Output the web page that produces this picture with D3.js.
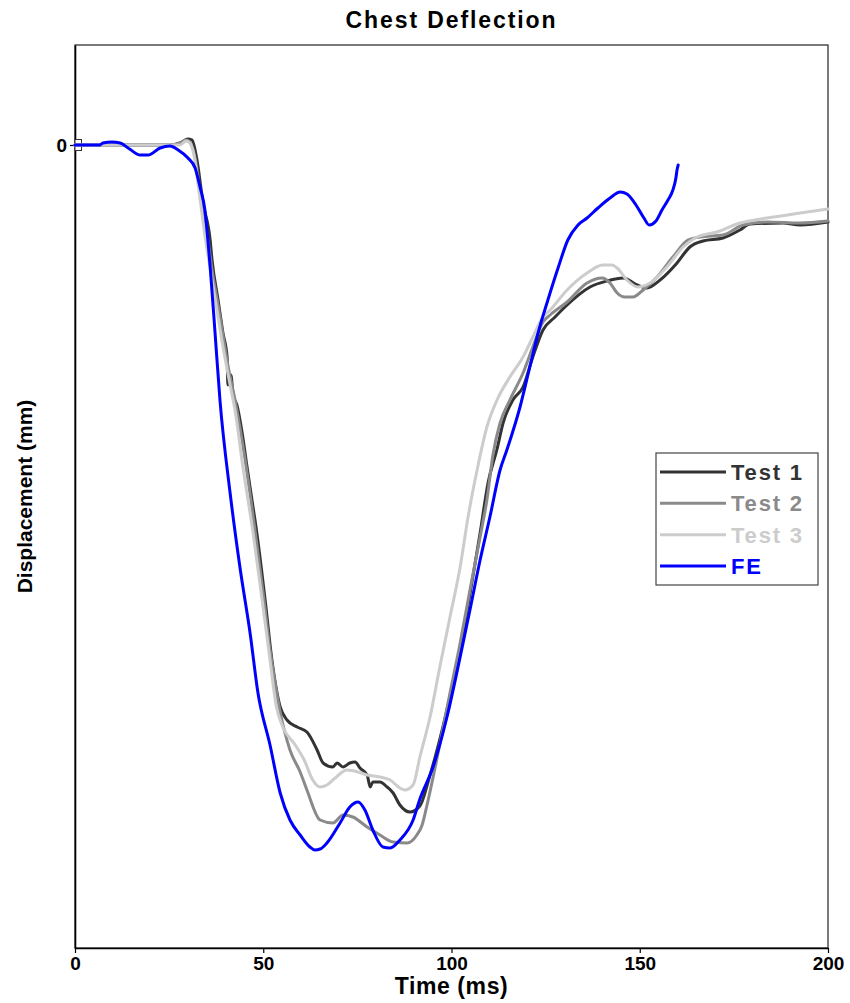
<!DOCTYPE html>
<html>
<head>
<meta charset="utf-8">
<script src="https://cdn.jsdelivr.net/npm/d3@7"></script>
<style>
  html, body { margin: 0; padding: 0; background: #fff; }
  text { font-family: "Liberation Sans", Arial, sans-serif; font-weight: bold; }
</style>
</head>
<body>
<svg id="chart" width="850" height="1003"></svg>
<script>
// ---- Data (time in ms, displacement in mm) ----
const chartTitle = "Chest Deflection";
const xLabel = "Time (ms)";
const yLabel = "Displacement (mm)";
const xTicks = [0, 50, 100, 150, 200];
const yTicks = [0];
const seriesNames = ["Test 1", "Test 2", "Test 3", "FE"];
const seriesColors = ["#333333", "#8a8a8a", "#cccccc", "#0000ff"];

const test1 = [
  [0,0],[25.2,0],[27.9,0.2],[30.0,0.6],[31.1,0.5],[32.4,-1.5],[34.0,-5.8],[35.9,-9.5],
  [36.4,-11.5],[38.0,-15.5],[39.3,-18.8],[40.4,-21.2],[40.6,-24.0],[41.4,-23.0],[42.0,-25.0],
  [43.0,-26.0],[44.4,-28.8],[45.7,-32.2],[47.0,-35.5],[48.3,-38.8],[50.5,-45.5],[52.3,-51.5],
  [54.5,-56.2],[56.3,-57.5],[59.0,-58.2],[61.6,-58.7],[64.3,-60.5],[65.9,-61.8],[68.5,-62.2],
  [69.6,-61.8],[71.2,-62.2],[73.0,-61.8],[74.4,-61.7],[75.7,-62.3],[77.6,-63.0],[78.4,-64.2],
  [79.1,-63.7],[81.0,-63.7],[82.9,-64.2],[84.5,-64.8],[86.3,-66.0],[89.0,-66.7],[91.6,-66.1],
  [94.3,-63.0],[97.7,-58.2],[100.4,-53.8],[103.1,-48.8],[105.4,-43.8],[107.6,-38.8],[109.7,-33.8],
  [112.1,-30.4],[113.7,-27.8],[116.3,-25.5],[119.0,-24.2],[121.6,-21.2],[124.3,-18.5],
  [127.5,-17.2],[130.7,-16.0],[136.8,-14.2],[141.3,-13.6],[145.6,-13.3],[149.3,-14.0],
  [151.9,-14.3],[155.4,-13.5],[159.9,-11.8],[163.3,-10.2],[166.8,-9.6],[172.1,-9.3],
  [176.6,-8.5],[179.3,-7.9],[188.0,-7.8],[192.6,-8.0],[200,-7.7]
];

const test2 = [
  [0,0],[25.2,0],[27.9,0.2],[29.5,0.5],[30.5,0.3],[31.9,-1.3],[33.5,-5.5],[35.3,-9.5],
  [36.4,-12.5],[38.0,-16.0],[39.3,-19.0],[40.6,-22.0],[42.5,-25.5],[45.2,-31.5],[47.8,-38.5],
  [50.2,-45.5],[51.8,-50.5],[52.6,-52.5],[54.5,-56.7],[57.1,-60.5],[59.8,-62.7],[61.6,-64.5],
  [65.1,-67.5],[68.5,-67.8],[71.2,-67.0],[73.8,-67.2],[77.6,-68.2],[81.0,-69.0],[84.5,-69.7],
  [88.2,-69.8],[90.8,-69.0],[92.2,-68.0],[93.5,-66.0],[96.6,-60.5],[99.6,-54.8],[102.3,-49.8],
  [104.9,-44.5],[107.6,-39.2],[109.4,-35.5],[111.0,-31.0],[112.9,-27.8],[115.5,-25.5],
  [119.0,-22.8],[121.6,-20.2],[124.3,-17.7],[126.2,-17.0],[130.7,-15.7],[136.0,-13.8],
  [140.0,-13.3],[142.1,-13.8],[144.0,-14.8],[146.0,-15.2],[148.2,-15.2],[150.9,-14.5],
  [154.6,-13.2],[158.8,-11.2],[162.8,-9.5],[166.0,-9.2],[172.1,-9.0],[177.4,-8.0],
  [183.8,-7.7],[192.6,-7.8],[200,-7.6]
];

const test3 = [
  [0,0],[27.9,0],[29.5,0.4],[30.5,0.2],[31.6,-1.0],[32.9,-4.5],[34.5,-9.0],[35.9,-12.3],
  [37.5,-16.0],[39.0,-19.5],[41.2,-24.0],[42.5,-26.5],[44.6,-32.2],[47.3,-38.8],[49.7,-45.5],
  [51.8,-51.5],[53.4,-56.0],[55.2,-58.2],[58.5,-60.0],[61.0,-61.6],[63.0,-63.4],[65.1,-64.2],
  [66.9,-64.0],[69.1,-63.3],[72.2,-62.5],[75.2,-62.7],[77.6,-63.0],[81.0,-63.2],[83.7,-63.5],
  [86.3,-64.3],[87.6,-64.5],[89.8,-64.0],[91.6,-61.2],[94.3,-57.2],[96.9,-52.2],[99.6,-47.2],
  [102.3,-42.2],[104.4,-37.2],[106.8,-32.5],[109.4,-28.2],[112.1,-25.5],[115.5,-23.2],
  [119.0,-21.2],[121.6,-19.2],[124.3,-17.2],[126.2,-16.5],[130.7,-14.5],[136.0,-12.8],
  [140.2,-12.0],[142.6,-12.0],[144.0,-12.3],[146.6,-13.5],[149.5,-14.2],[152.7,-13.8],
  [157.2,-12.2],[161.5,-10.2],[165.2,-9.2],[170.5,-8.7],[176.6,-7.8],[183.8,-7.3],
  [192.6,-6.8],[200,-6.4]
];

const fe = [
  [0,0],[6.6,0],[7.4,0.2],[9.8,0.3],[12.0,0.2],[14.5,-0.4],[17.3,-1.0],[19.4,-1.0],
  [22.6,-0.3],[25.2,-0.1],[27.4,-0.5],[30.0,-1.3],[31.9,-2.3],[33.2,-4.2],[34.5,-6.5],
  [35.3,-9.5],[35.9,-12.2],[37.2,-18.8],[38.5,-25.5],[41.2,-34.8],[43.8,-42.2],[46.5,-48.8],
  [48.6,-54.8],[51.8,-60.0],[54.5,-64.8],[57.1,-67.5],[59.8,-69.0],[62.4,-70.2],[63.7,-70.5],
  [65.1,-70.4],[66.9,-69.8],
  [70.4,-67.8],[73.0,-66.2],[75.2,-65.7],[77.0,-66.5],[79.1,-68.5],[81.8,-70.2],[83.7,-70.3],
  [86.3,-69.5],[89.8,-67.5],[91.6,-65.4],[95.1,-62.2],[98.8,-57.2],[102.3,-51.2],[104.9,-46.5],
  [107.6,-41.5],[110.2,-37.2],[112.9,-32.5],[114.7,-30.5],[118.2,-26.2],[120.8,-22.2],
  [123.0,-18.8],[125.6,-15.5],[128.3,-12.3],[130.9,-9.5],[133.6,-8.0],[136.0,-7.3],
  [138.9,-6.3],[142.1,-5.3],[144.8,-4.7],[146.6,-4.9],[149.0,-6.0],[151.1,-7.3],[152.5,-8.0],
  [154.3,-7.6],[155.9,-6.5],[157.5,-5.5],[158.8,-4.5],[159.6,-3.3],[159.9,-2.5],[160.2,-2.0]
];

const allSeries = [test1, test2, test3, fe];

// ---- Layout ----
const svg = d3.select("#chart");
const plot = { left: 75, right: 828, top: 45, bottom: 948 };

const x = d3.scaleLinear().domain([0, 200]).range([plot.left, plot.right]);
const y = d3.scaleLinear().domain([-80.3, 10]).range([plot.bottom, plot.top]);

// plot frame
svg.append("rect")
  .attr("x", plot.left).attr("y", plot.top)
  .attr("width", plot.right - plot.left).attr("height", plot.bottom - plot.top)
  .attr("fill", "none").attr("stroke", "#222").attr("stroke-width", 1.2);

// x axis
const xAxis = svg.append("g")
  .attr("transform", `translate(0,${plot.bottom})`)
  .call(d3.axisBottom(x).tickValues(xTicks).tickFormat(d3.format("d"))
        .tickSize(5).tickSizeOuter(0).tickPadding(4));
xAxis.select(".domain").attr("stroke", "#000").attr("stroke-width", 1.6);
xAxis.selectAll(".tick line").attr("stroke", "#000").attr("stroke-width", 1.2);
xAxis.selectAll(".tick text")
  .attr("font-size", 19).attr("font-weight", "bold").attr("fill", "#000")
  .style("font-family", "'Liberation Sans', Arial, sans-serif");

// y axis
const yAxis = svg.append("g")
  .attr("transform", `translate(${plot.left},0)`)
  .call(d3.axisLeft(y).tickValues(yTicks).tickFormat(d3.format("d"))
        .tickSize(5).tickSizeOuter(0).tickPadding(3));
yAxis.select(".domain").attr("stroke", "#000").attr("stroke-width", 1.6);
yAxis.selectAll(".tick line").attr("stroke", "#000").attr("stroke-width", 1.2);
yAxis.selectAll(".tick text")
  .attr("font-size", 19).attr("font-weight", "bold").attr("fill", "#000")
  .style("font-family", "'Liberation Sans', Arial, sans-serif");

// small marker square at the origin
svg.append("rect")
  .attr("x", x(0)).attr("y", y(0) - 5.5)
  .attr("width", 6.5).attr("height", 11)
  .attr("fill", "#fff").attr("stroke", "#333").attr("stroke-width", 1);

// lines
const line = d3.line()
  .x(d => x(d[0]))
  .y(d => y(d[1]))
  .curve(d3.curveMonotoneX);

svg.append("g").selectAll("path")
  .data(allSeries)
  .join("path")
  .attr("d", d => line(d))
  .attr("fill", "none")
  .attr("stroke", (d, i) => seriesColors[i])
  .attr("stroke-width", 3)
  .attr("stroke-linejoin", "round")
  .attr("stroke-linecap", "round");

// titles
svg.append("text")
  .attr("x", (plot.left + plot.right) / 2).attr("y", 28)
  .attr("text-anchor", "middle")
  .attr("font-size", 23).attr("letter-spacing", 1.9)
  .text(chartTitle);

svg.append("text")
  .attr("x", (plot.left + plot.right) / 2).attr("y", 994)
  .attr("text-anchor", "middle")
  .attr("font-size", 23).attr("letter-spacing", 0.6)
  .text(xLabel);

svg.append("text")
  .attr("transform", `translate(32, ${(plot.top + plot.bottom) / 2}) rotate(-90)`)
  .attr("text-anchor", "middle")
  .attr("font-size", 21)
  .text(yLabel);

// legend
const legend = svg.append("g");
legend.append("rect")
  .attr("x", 656).attr("y", 453).attr("width", 162).attr("height", 132)
  .attr("fill", "#fff").attr("stroke", "#444").attr("stroke-width", 1.2);

const rowY = d3.scalePoint().domain(seriesNames).range([472, 566]);
seriesNames.forEach((name, i) => {
  const yy = rowY(name);
  legend.append("line")
    .attr("x1", 660).attr("x2", 726).attr("y1", yy).attr("y2", yy)
    .attr("stroke", seriesColors[i]).attr("stroke-width", 3);
  legend.append("text")
    .attr("x", 731).attr("y", yy + 8)
    .attr("font-size", 22).attr("letter-spacing", 1.8)
    .attr("fill", seriesColors[i])
    .text(name);
});
</script>
</body>
</html>
